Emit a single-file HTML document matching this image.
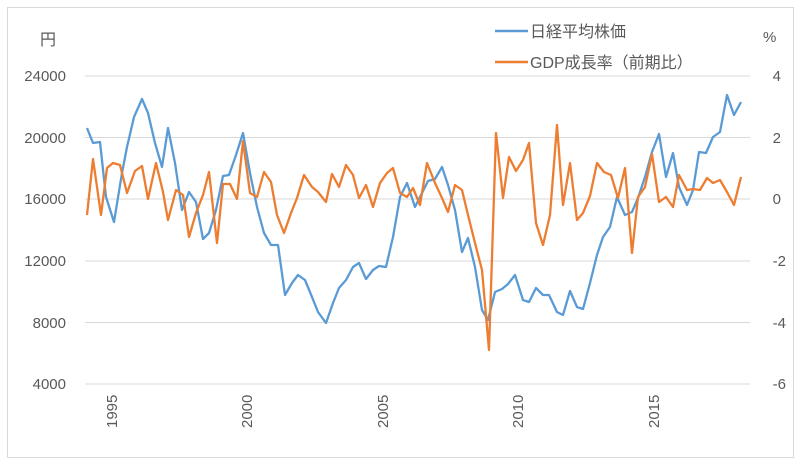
<!DOCTYPE html>
<html><head><meta charset="utf-8"><style>
html,body{margin:0;padding:0;background:#fff;}
svg{display:block;font-family:"Liberation Sans","Noto Sans CJK JP",sans-serif;}
</style></head><body>
<svg width="800" height="469" viewBox="0 0 800 469" xmlns="http://www.w3.org/2000/svg">
<rect x="7.5" y="7.5" width="786" height="450" fill="#fff" stroke="#d9d9d9"/>
<g stroke="#d9d9d9" stroke-width="1">
<line x1="85" y1="76" x2="750" y2="76"/>
<line x1="85" y1="137.5" x2="750" y2="137.5"/>
<line x1="85" y1="199" x2="750" y2="199"/>
<line x1="85" y1="261" x2="750" y2="261"/>
<line x1="85" y1="322.5" x2="750" y2="322.5"/>
<line x1="85" y1="384" x2="750" y2="384"/>
</g>
<g fill="#595959" font-size="15" text-anchor="end">
<text x="66" y="81">24000</text>
<text x="66" y="143">20000</text>
<text x="66" y="204">16000</text>
<text x="66" y="266">12000</text>
<text x="66" y="328">8000</text>
<text x="66" y="389">4000</text>
<text x="781" y="81">4</text>
<text x="781" y="143">2</text>
<text x="781" y="204">0</text>
<text x="786" y="266">-2</text>
<text x="786" y="328">-4</text>
<text x="786" y="389">-6</text>
</g>
<text x="40" y="45" fill="#595959" font-size="16">円</text>
<text x="763" y="42" fill="#595959" font-size="15">%</text>
<g fill="#595959" font-size="15">
<text transform="translate(117,428) rotate(-90)">1995</text>
<text transform="translate(252,428) rotate(-90)">2000</text>
<text transform="translate(388,428) rotate(-90)">2005</text>
<text transform="translate(523,428) rotate(-90)">2010</text>
<text transform="translate(659,428) rotate(-90)">2015</text>
</g>
<line x1="495" y1="31" x2="528" y2="31" stroke="#5b9bd5" stroke-width="2.5"/>
<text x="530" y="37" fill="#595959" font-size="16">日経平均株価</text>
<line x1="495" y1="62" x2="528" y2="62" stroke="#ed7d31" stroke-width="2.5"/>
<text x="530" y="68" fill="#595959" font-size="16">GDP成長率（前期比）</text>
<polyline fill="none" stroke="#5b9bd5" stroke-width="2.3" stroke-linejoin="round" points="87,128 93,143 100,142 106,197 114,222 122,173 127,147 134,117 142,99 148,113 155,143 162,167 168,128 175,163 182,210 189,192 196,202 203,239 209,233 216,210 223,176 229,175 236,155 243,133 250,173 257,207 264,233 271,245 278,245 285,295 292,283 298,275 305,280 312,297 318,312 326,323 333,303 339,288 346,280 353,267 359,263 366,279 373,270 379,266 386,267 393,237 400,197 407,183 415,207 422,193 428,181 435,179 442,167 448,185 455,210 462,252 468,238 475,267 482,310 488,320 495,292 502,289 508,284 515,275 523,300 529,302 536,288 543,295 549,295 557,312 563,315 570,291 577,307 583,309 590,283 597,255 603,237 610,227 617,197 625,215 632,212 638,198 645,177 652,152 659,134 666,177 673,153 679,187 687,205 693,190 699,152 706,153 713,137 720,132 727,95 734,115 741,102"/>
<polyline fill="none" stroke="#ed7d31" stroke-width="2.3" stroke-linejoin="round" points="87,215 93,159 101,215 107,168 113,163 120,165 127,193 135,171 142,166 148,199 156,163 163,192 168,220 176,190 183,195 189,237 196,213 203,195 209,172 217,243 223,184 230,184 237,199 243,141 250,193 257,197 264,172 271,182 277,215 284,233 291,213 297,198 304,175 312,187 318,192 326,202 332,174 339,187 346,165 353,175 359,198 366,185 373,207 380,183 387,173 393,168 400,193 407,197 413,188 420,205 427,163 435,183 442,198 448,212 455,185 462,190 468,215 475,243 482,270 489,350 496,133 503,198 509,157 516,171 523,160 529,143 536,223 543,245 550,215 557,125 563,205 570,163 577,220 583,213 590,196 597,163 604,172 611,175 618,198 625,168 632,253 638,197 645,187 652,154 659,202 666,197 673,207 679,175 687,190 693,189 700,190 707,178 713,183 720,180 727,192 734,205 741,177"/>
</svg>
</body></html>
